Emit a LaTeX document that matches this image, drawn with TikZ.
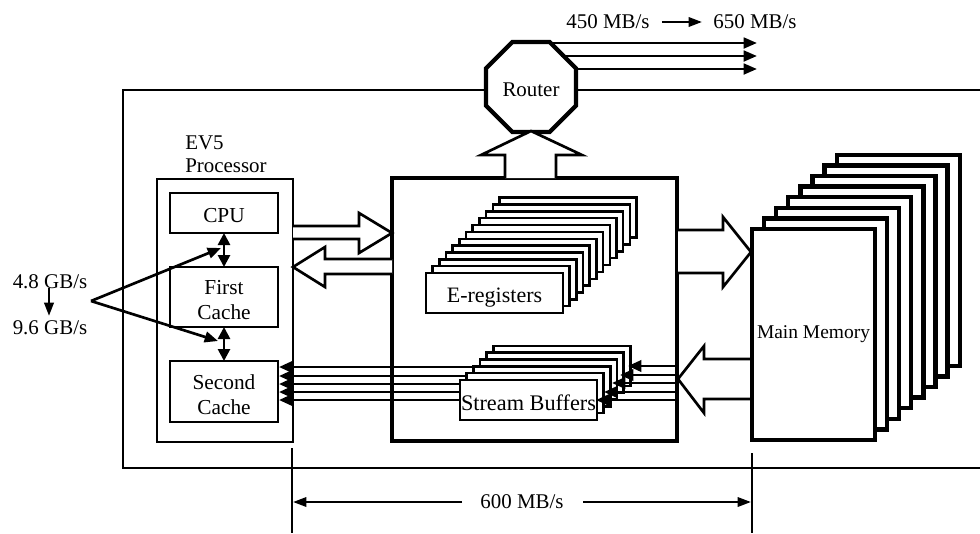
\documentclass[tikz,border=0pt]{standalone}
\usepackage{fontspec}
\setmainfont{Liberation Serif}
\usetikzlibrary{arrows.meta,shapes.geometric}
\def\px{0.75pt}
\newcommand{\lowtext}[1]{\raisebox{-2pt}[\height][0pt]{#1}}
\tikzset{
  x=0.75pt,y=-0.75pt,
  line join=miter,
  lbl/.style={font=\fontsize{15.7}{17}\selectfont,inner sep=0pt,align=center},
  thin box/.style={draw,line width=2pt,fill=white,inner sep=0pt,outer sep=0pt,align=center,font=\fontsize{16}{18.7}\selectfont},
  heavy box/.style={draw,line width=3pt,fill=white,inner sep=0pt,outer sep=0pt},
  ereg/.style={draw,line width=1.8pt,fill=white,inner sep=0pt,outer sep=0pt,minimum width=137*\px,minimum height=40*\px,font=\fontsize{16.5}{18}\selectfont},
  mem/.style={draw,line width=3.2pt,fill=white,inner sep=0pt,outer sep=0pt,minimum width=123*\px,minimum height=211*\px,font=\fontsize{14.6}{18}\selectfont},
  blockarrow/.style={draw,line width=2pt,fill=white,line join=miter},
  conn/.style={line width=2pt,-{Stealth[length=10pt,width=8pt,inset=0pt]}},
  bus/.style={line width=2pt,-{Stealth[length=10pt,width=8.5pt,inset=0pt]}},
  dbl/.style={line width=2pt,{Stealth[length=9pt,width=9pt,inset=0pt]}-{Stealth[length=9pt,width=9pt,inset=0pt]}},
  thinarrow/.style={line width=1.7pt,-{Stealth[length=10pt,width=7pt,inset=0pt]}},
  guide/.style={line width=1.7pt},
}
\begin{document}
\begin{tikzpicture}
\useasboundingbox (0,0) rectangle (980,533);
% outer frame
\coordinate (ftr) at (980,90);
\coordinate (ftl) at (123,90);
\coordinate (fbl) at (123,468);
\coordinate (fbr) at (980,468);
\draw[line width=1.8pt] (ftr) -- (ftl) -- (fbl) -- (fbr);
% router
\node[regular polygon,regular polygon sides=8,draw,line width=3.2pt,fill=white,inner sep=0pt,outer sep=0pt,minimum size=73pt,font=\fontsize{15.7}{18}\selectfont] (router) at (531,87) {\lowtext{Router}};
\foreach \n/\xa/\ya in {a/547/43,b/561/56,c/574/69}{
  \coordinate (r\n) at (\xa,\ya);
  \coordinate (e\n) at (757,\ya);
  \draw[conn] (r\n) -- (e\n);
}
% top label
\node[lbl] (rate1) at (608,22) {450 MB/s};
\node[lbl] (rate2) at (755,22) {650 MB/s};
\draw[thinarrow] (rate1.east) ++(12,0) coordinate (ra) -- (702,22) coordinate (rb);
% center box
\node[heavy box,minimum width=285*\px,minimum height=263*\px] (center) at (534.5,309.5) {};
% EV5 box
\node[draw,line width=2.2pt,fill=white,inner sep=0pt,outer sep=0pt,minimum width=136*\px,minimum height=263*\px] (ev5) at (225,310.5) {};
\node[lbl,align=left,anchor=south west,font=\fontsize{15.7}{17.2}\selectfont] (ev5l) at (185,173) {EV5\\Processor};
% cache boxes
\node[thin box,minimum width=108*\px,minimum height=40*\px] (cpu) at (224,213) {\lowtext{CPU}};
\node[thin box,minimum width=108*\px,minimum height=60*\px] (first) at (224,297) {\lowtext{First}\\\lowtext{Cache}};
\node[thin box,minimum width=108*\px,minimum height=61*\px] (second) at (224,391.5) {\lowtext{Second}\\\lowtext{Cache}};
\draw[dbl] (cpu.south) -- (first.north);
\draw[dbl] (first.south) -- (second.north);
% rates left
\node[lbl] (r48) at (50,282) {4.8 GB/s};
\node[lbl] (r96) at (50,328) {9.6 GB/s};
\draw[thinarrow,line width=2pt] (49,288) coordinate (da) -- (49,316) coordinate (db);
\coordinate (apex) at (91,301);
\coordinate (t1) at (221,248);
\coordinate (t2) at (218,341);
\draw[conn] (apex) -- (t1);
\draw[conn] (apex) -- (t2);
% block arrows
\draw[blockarrow] (293,226) -- (359,226) -- (359,213) -- (392,233) -- (359,253) -- (359,239) -- (293,239);
\draw[blockarrow] (392,259) -- (325,259) -- (325,247) -- (293,267) -- (325,287) -- (325,274) -- (392,274);
\draw[blockarrow] (678,230) -- (723,230) -- (723,217) -- (751,252) -- (723,287) -- (723,273) -- (678,273);
\draw[blockarrow] (751,359) -- (704,359) -- (704,346) -- (678,379) -- (704,413) -- (704,399) -- (751,399);
\draw[blockarrow] (505,178) -- (505,155) -- (481,155) -- (531,131) -- (582,155) -- (556,155) -- (556,178);
% bus lines to second cache
\foreach \i/\yy in {1/367,2/376,3/384,4/392,5/400}{
  \coordinate (bl\i) at (279,\yy);
  \coordinate (br\i) at (560,\yy);
  \draw[bus] (br\i) -- (bl\i);
}
% e-registers
\foreach \i in {11,...,1}{
  \node[ereg] (e\i) at ({494.5+\i*6.67},{293-\i*6.85}) {};
}
\node[ereg] (eregs) at (494.5,293) {\lowtext{E-registers}};
% stream buffers
\foreach \i in {5,...,1}{
  \node[ereg] (s\i) at ({528.5+\i*6.67},{400-\i*6.85}) {};
}
\node[ereg,font=\fontsize{16.7}{18}\selectfont] (sbuf) at (528.5,400) {\lowtext{Stream Buffers}};
% bus lines from the box
\foreach \i/\yy/\xx in {1/366/628,2/375/620,3/383/612,4/392/604,5/400/596}{
  \coordinate (ca\i) at (677,\yy);
  \coordinate (cb\i) at (\xx,\yy);
  \draw[bus] (ca\i) -- (cb\i);
}
% main memory
\foreach \i in {7,...,1}{
  \node[mem] (m\i) at ({813.5+\i*12.1},{334.5-\i*10.6}) {};
}
\node[mem] (memory) at (813.5,334.5) {Main Memory};
% bottom dimension
\coordinate (g1a) at (292,448);
\coordinate (g1b) at (292,533);
\coordinate (g2a) at (752,453);
\coordinate (g2b) at (752,533);
\draw[guide] (g1a) -- (g1b);
\draw[guide] (g2a) -- (g2b);
\node[lbl] (r600) at (522,502) {600 MB/s};
\coordinate (w) at (462,502);
\coordinate (z) at (583,502);
\draw[thinarrow] (w) -- (293,502);
\draw[thinarrow] (z) -- (751,502);
\end{tikzpicture}
\end{document}
